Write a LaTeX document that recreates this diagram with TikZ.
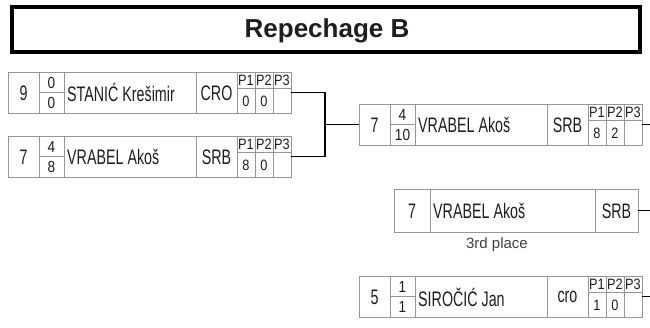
\documentclass[tikz,border=0pt]{standalone}
\usepackage{fontspec}
\setmainfont{Liberation Sans}
\newfontfamily\narrowf[FakeStretch=0.68]{Liberation Sans}
\newfontfamily\semif[FakeStretch=0.85]{Liberation Sans}
\definecolor{cellgray}{RGB}{150,150,150}
\definecolor{ink}{RGB}{30,30,30}
\tikzset{
  frame/.style={draw=cellgray, line width=0.8pt, inner sep=0pt, outer sep=0pt, fill=white},
  cell/.style={draw=cellgray, line width=0.8pt},
  conn/.style={draw=black, line width=1.6pt},
  titlebox/.style={draw=black, line width=3.5pt, inner sep=0pt, fill=white},
  titletxt/.style={font=\bfseries\fontsize{26}{26}\selectfont, text=ink, inner sep=0pt},
  bigtxt/.style={font=\narrowf\fontsize{21}{21}\selectfont, text=ink, inner sep=0pt},
  scoretxt/.style={font=\semif\fontsize{16}{16}\selectfont, text=ink, inner sep=0pt},
  ptxt/.style={font=\semif\fontsize{15}{15}\selectfont, text=ink, inner sep=0pt},
  placetxt/.style={font=\fontsize{15}{15}\selectfont, text=ink!85, inner sep=0pt}
}
\newcommand{\bout}[8]{%
  \node[frame, minimum width=283pt, minimum height=41pt, anchor=north west] (#1) at (0,0) {};
  \foreach \xx in {31,56,188,229,247,265} {\draw[cell] (\xx,0) -- (\xx,41);}
  \draw[cell] (31,20.5) -- (56,20.5);
  \draw[cell] (229,16) -- (283,16);
  \node[bigtxt] (#1-seed) at (15.5,21) {#2};
  \node[scoretxt] (#1-sa) at (43.5,10.5) {#3};
  \node[scoretxt] (#1-sb) at (43.5,30.5) {#4};
  \node[bigtxt, anchor=west] (#1-name) at (59,21) {#5};
  \node[bigtxt] (#1-nat) at (208.5,21) {#6};
  \node[ptxt] (#1-p1) at (238,8) {P1};
  \node[ptxt] (#1-p2) at (256,8) {P2};
  \node[ptxt] (#1-p3) at (274,8) {P3};
  \node[ptxt] (#1-v1) at (238,29) {#7};
  \node[ptxt] (#1-v2) at (256,29) {#8};
}
\begin{document}
\begin{tikzpicture}[x=1pt, y=-1pt]
  \useasboundingbox (0,0) rectangle (650,328);
  \fill[white] (0,0) rectangle (650,328);
  % title
  \node[titlebox, minimum width=628pt, minimum height=45pt] (title) at (326,29.5) {};
  \node[titletxt] (titletext) at (327,31) {Repechage B};
  % bouts
  \begin{scope}[shift={(8,72)}]
    \bout{r1}{9}{0}{0}{STANIĆ Krešimir}{CRO}{0}{0}
  \end{scope}
  \begin{scope}[shift={(8,136)}]
    \bout{r2}{7}{4}{8}{VRABEL Akoš}{SRB}{8}{0}
  \end{scope}
  \begin{scope}[shift={(359,104)}]
    \bout{r3}{7}{4}{10}{VRABEL Akoš}{SRB}{8}{2}
  \end{scope}
  \begin{scope}[shift={(359,276)}]
    \bout{r5}{5}{1}{1}{SIROČIĆ Jan}{cro}{1}{0}
  \end{scope}
  % 3rd place
  \node[frame, minimum width=244pt, minimum height=43pt, anchor=north west] (r4) at (394,189) {};
  \draw[cell] (430,189) -- (430,232);
  \draw[cell] (595,189) -- (595,232);
  \node[bigtxt] (r4-seed) at (412,211) {7};
  \node[bigtxt, anchor=west] (r4-name) at (433,211) {VRABEL Akoš};
  \node[bigtxt] (r4-nat) at (616.5,211) {SRB};
  \node[placetxt] (r4-label) at (497,245) {3rd place};
  % connectors
  \coordinate (j) at (325,124.5);
  \coordinate (e3) at (650,124.5);
  \coordinate (e4) at (650,210.5);
  \coordinate (e5) at (650,296.5);
  \draw[conn] (r1.east) -| (j) |- (r2.east);
  \draw[conn] (j) -- (r3.west);
  \draw[conn] (r3.east) -- (e3);
  \draw[conn] (r4.east) -- (e4);
  \draw[conn] (r5.east) -- (e5);
\end{tikzpicture}
\end{document}
